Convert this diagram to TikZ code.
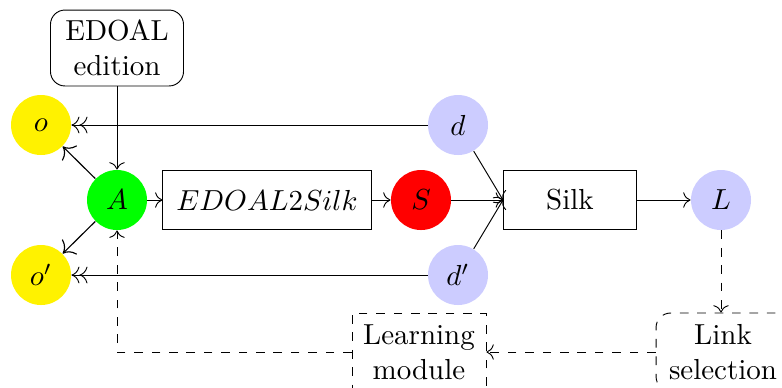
\documentclass[tikz,border=0pt]{standalone}
\usetikzlibrary{arrows.meta}
\begin{document}
\begin{tikzpicture}[x=0.345pt,y=-0.345pt,line width=0.32pt,>={To[scale=1.1]},
  ball/.style={circle,minimum size=20.7pt,inner sep=0pt},
  proc/.style={draw,minimum height=20.4pt,inner sep=2pt},
  flow/.style={->},
  outflow/.style={-{To[scale=1.4]},line width=0.4pt},
  dblflow/.style={-{To[scale=1.2]To[scale=1.2]}},
  back/.style={->,dashed}]
\useasboundingbox (0,0) rectangle (782,387);
\clip (0,0) rectangle (782,387);

% yellow outputs, green alignment, red script, blue data sets
\node[ball,fill=yellow] (o)  at (41,125) {$o$};
\node[ball,fill=yellow] (o2) at (41,275) {$o'$};
\node[ball,fill=green]  (A)  at (117,200) {$A$};
\node[ball,fill=red]    (S)  at (421,200) {$S$};
\node[ball,fill=blue!20] (d)  at (458,125) {$d$};
\node[ball,fill=blue!20] (d2) at (458,275) {$d'$};
\node[ball,fill=blue!20] (L)  at (721,200) {$L$};

% processing boxes
\node[draw,rounded corners=5pt,align=center,minimum width=45.9pt,minimum height=26.2pt,inner sep=2pt]
  (edit) at (117,48) {EDOAL\\edition};
\node[proc,minimum width=71.8pt] (conv) at (267,200) {$EDOAL2Silk$};
\node[proc,minimum width=45.9pt] (silk) at (570,200) {Silk};
\node[draw,dashed,align=center,minimum width=46.2pt,minimum height=26.9pt,inner sep=2pt]
  (learn) at (419,352) {Learning\\module};
\node[draw,dashed,rounded corners=5pt,align=center,minimum width=46.2pt,minimum height=26.9pt,inner sep=2pt]
  (link) at (723,352) {Link\\selection};

% main flow
\draw[flow] (edit) -- (A);
\draw[outflow] (A) -- (o);
\draw[outflow] (A) -- (o2);
\draw[flow] (A) -- (conv);
\draw[flow] (conv) -- (S);
\draw[flow] (S) -- (silk.west);
\draw[flow] (d) -- (silk.west);
\draw[flow] (d2) -- (silk.west);
\draw[flow] (silk) -- (L);
\draw[dblflow] (d) -- (o);
\draw[dblflow] (d2) -- (o2);

% feedback loop
\draw[back] (L) -- (L |- link.north);
\draw[back] (link.west |- learn) -- (learn.east);
\draw[back] (learn.west) -| (A);
\end{tikzpicture}
\end{document}
